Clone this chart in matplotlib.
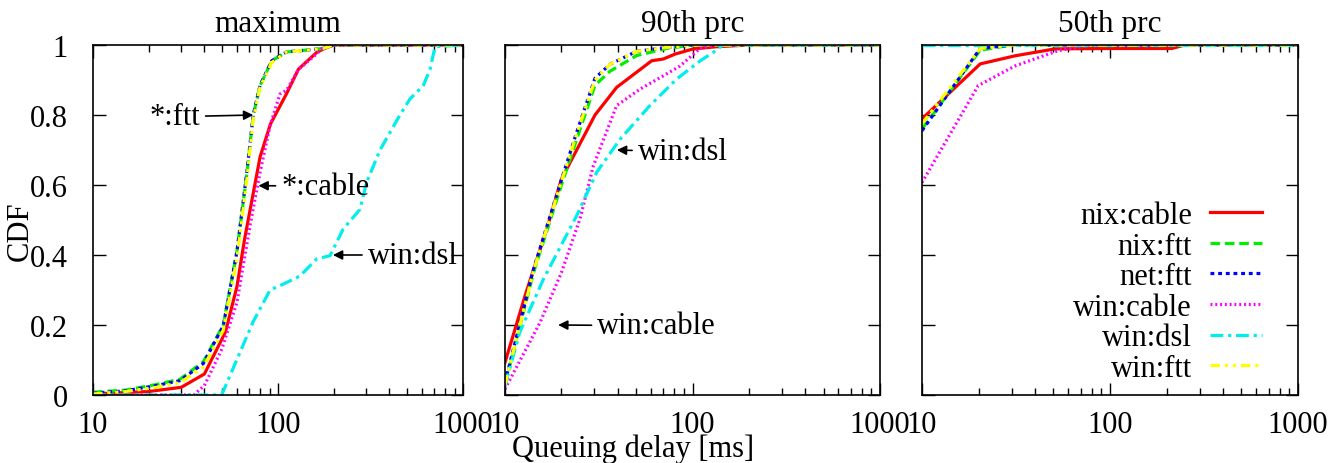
import numpy as np
import matplotlib
matplotlib.use("Agg")
import matplotlib.pyplot as plt
from matplotlib.ticker import LogLocator, NullFormatter, FixedLocator, FixedFormatter

plt.rcParams['font.family'] = ['Liberation Serif', 'DejaVu Serif']
plt.rcParams['font.size'] = 22

panel_titles = ['maximum', '90th prc', '50th prc']
series_names = ['nix:cable', 'nix:ftt', 'net:ftt', 'win:cable', 'win:dsl', 'win:ftt']

# --- maximum ---
max_nix_cable_x = [10, 20, 30, 40, 52, 60, 66, 80, 91, 111, 129, 162, 178, 200, 1000]
max_nix_cable_y = [0.003, 0.01, 0.022, 0.06, 0.18, 0.31, 0.446, 0.68, 0.774, 0.86, 0.931, 0.979, 0.99, 1, 1]
max_ftt_x = [10, 15, 22, 29.5, 39.5, 50.6, 60, 68, 73.5, 80, 92.5, 111, 175, 200, 1000]
max_nix_ftt_y = [0.008, 0.014, 0.03, 0.045, 0.095, 0.2, 0.41, 0.636, 0.8, 0.884, 0.955, 0.98, 0.99, 1, 1]
max_net_ftt_y = [0.005, 0.012, 0.027, 0.041, 0.09, 0.198, 0.41, 0.64, 0.8, 0.885, 0.955, 0.98, 0.99, 1, 1]
max_win_ftt_y = [0.003, 0.01, 0.022, 0.035, 0.08, 0.185, 0.39, 0.62, 0.79, 0.88, 0.95, 0.98, 0.99, 1, 1]
max_win_cable_x = [10, 35, 40, 49.6, 60, 70.6, 80, 90.6, 102.5, 111, 129, 162, 180, 1000]
max_win_cable_y = [0, 0, 0.027, 0.13, 0.265, 0.484, 0.636, 0.77, 0.86, 0.87, 0.93, 0.975, 1, 1]
max_win_dsl_x = [10, 49.6, 59.8, 73.5, 90.6, 107, 131.5, 162, 191, 225, 277, 301, 356, 456, 517, 610, 663, 706, 1000]
max_win_dsl_y = [0, 0, 0.10, 0.21, 0.30, 0.317, 0.34, 0.389, 0.398, 0.474, 0.53, 0.607, 0.70, 0.80, 0.846, 0.884, 0.93, 0.995, 1]

# --- 90th percentile ---
p90_nix_cable_x = [10, 12.8, 16.7, 20, 30.2, 39.4, 60.6, 69.9, 80.7, 101, 134, 200, 1000]
p90_nix_cable_y = [0.093, 0.284, 0.474, 0.617, 0.80, 0.879, 0.955, 0.96, 0.974, 0.989, 0.995, 1, 1]
p90_ftt_x = [10, 14.2, 20, 24.1, 30.2, 36.3, 50.4, 72.9, 100, 1000]
p90_nix_ftt_y = [0.03, 0.35, 0.6, 0.73, 0.885, 0.925, 0.97, 0.99, 1, 1]
p90_net_ftt_y = [0.036, 0.36, 0.615, 0.75, 0.905, 0.945, 0.982, 0.993, 1, 1]
p90_win_ftt_y = [0.03, 0.355, 0.61, 0.745, 0.9, 0.945, 0.982, 0.993, 1, 1]
p90_win_cable_x = [10, 15.4, 20, 25.1, 29.6, 39.4, 52.5, 69.9, 85.8, 109.6, 130, 1000]
p90_win_cable_y = [0.017, 0.208, 0.35, 0.503, 0.655, 0.827, 0.874, 0.912, 0.94, 0.99, 1, 1]
p90_win_dsl_x = [10, 12, 16, 24.1, 30.8, 41.1, 59.3, 82.4, 99, 110, 129, 145, 1000]
p90_win_dsl_y = [0.026, 0.18, 0.33, 0.512, 0.636, 0.731, 0.827, 0.903, 0.936, 0.955, 0.979, 1, 1]

# --- 50th percentile ---
p50_nix_cable_x = [10, 20.4, 31.2, 51, 100, 213, 250, 1000]
p50_nix_cable_y = [0.789, 0.946, 0.969, 0.989, 0.99, 0.99, 1, 1]
p50_ftt_x = [10, 20.4, 30, 1000]
p50_nix_ftt_y = [0.76, 0.985, 1, 1]
p50_net_ftt_y = [0.755, 0.99, 1, 1]
p50_win_ftt_y = [0.775, 0.99, 1, 1]
p50_win_cable_x = [10, 19.9, 31.2, 53, 80, 1000]
p50_win_cable_y = [0.607, 0.884, 0.94, 0.984, 1, 1]
p50_win_dsl_x = [10, 1000]
p50_win_dsl_y = [1, 1]

panels = [
    [(max_nix_cable_x, max_nix_cable_y), (max_ftt_x, max_nix_ftt_y), (max_ftt_x, max_net_ftt_y),
     (max_win_cable_x, max_win_cable_y), (max_win_dsl_x, max_win_dsl_y), (max_ftt_x, max_win_ftt_y)],
    [(p90_nix_cable_x, p90_nix_cable_y), (p90_ftt_x, p90_nix_ftt_y), (p90_ftt_x, p90_net_ftt_y),
     (p90_win_cable_x, p90_win_cable_y), (p90_win_dsl_x, p90_win_dsl_y), (p90_ftt_x, p90_win_ftt_y)],
    [(p50_nix_cable_x, p50_nix_cable_y), (p50_ftt_x, p50_nix_ftt_y), (p50_ftt_x, p50_net_ftt_y),
     (p50_win_cable_x, p50_win_cable_y), (p50_win_dsl_x, p50_win_dsl_y), (p50_ftt_x, p50_win_ftt_y)],
]

colors = ['#ff0000', '#00ee00', '#0000ff', '#ff00ff', '#00eeee', '#ffff00']
styles = ['-', (0, (3, 1.5)), (0, (1.2, 1.2)), (0, (0.6, 0.9)), (0, (4, 1.5, 1, 1.5)), (0, (3, 1.5, 1, 1.5, 1, 1.5))]

# annotations: (panel, text, tip x, tip y, text x, text y, align)
notes = [
    (0, '*:ftt', 73.5, 0.80, 37.9, 0.795, 'right'),
    (0, '*:cable', 78.4, 0.598, 104, 0.597, 'left'),
    (0, 'win:dsl', 198, 0.40, 305, 0.40, 'left'),
    (1, 'win:dsl', 39.5, 0.70, 51, 0.695, 'left'),
    (1, 'win:cable', 19.2, 0.20, 31, 0.198, 'left'),
]

fig = plt.figure(figsize=(13.44, 4.64), dpi=100)
lefts = [93, 505, 922]
widths = [370, 375, 376]
axes = []
for i in range(3):
    ax = fig.add_axes([lefts[i] / 1344, 68 / 464, widths[i] / 1344, 350 / 464])
    axes.append(ax)
    for (xs, ys), c, ls, name in zip(panels[i], colors, styles, series_names):
        ax.plot(xs, ys, color=c, linestyle=ls, linewidth=2.3, label=name)
    ax.set_xscale('log')
    ax.set_xlim(10, 1000)
    ax.set_ylim(0, 1)
    ax.set_title(panel_titles[i], pad=10, fontsize=22.5)
    ax.xaxis.set_major_locator(FixedLocator([10, 100, 1000]))
    ax.xaxis.set_major_formatter(FixedFormatter(['10', '100', '1000']))
    ax.xaxis.set_minor_locator(LogLocator(base=10, subs=np.arange(2, 10)))
    ax.xaxis.set_minor_formatter(NullFormatter())
    ax.set_yticks([0, 0.2, 0.4, 0.6, 0.8, 1])
    if i == 0:
        ax.set_yticklabels(['0', '0.2', '0.4', '0.6', '0.8', '1'])
    else:
        ax.set_yticklabels([])
    ax.tick_params(which='both', direction='in', top=True, right=True, width=1)
    ax.tick_params(which='major', length=9)
    ax.tick_params(which='minor', length=5)
    ax.tick_params(axis='x', which='major', pad=11)
    ax.tick_params(axis='y', which='major', pad=18)
    for sp in ax.spines.values():
        sp.set_linewidth(1.2)

for p, txt, tx, ty, lx, ly, ha in notes:
    axes[p].annotate(txt, xy=(tx, ty), xytext=(lx, ly), ha=ha, va='center',
                     arrowprops=dict(arrowstyle='-|>', color='black', lw=1.2,
                                     mutation_scale=14, shrinkA=2, shrinkB=0))

axes[0].set_ylabel('CDF', labelpad=0)
axes[0].yaxis.set_label_coords(-0.158, 0.47)
fig.text(633 / 1344, 1 - 449 / 464, 'Queuing delay [ms]', ha='center', va='center')

axes[2].legend(loc='lower right', bbox_to_anchor=(0.905, 0.035), frameon=False,
               markerfirst=False, handlelength=1.7, handletextpad=0.6,
               labelspacing=0.05, borderpad=0, borderaxespad=0)

fig.savefig('out.png', dpi=100)
